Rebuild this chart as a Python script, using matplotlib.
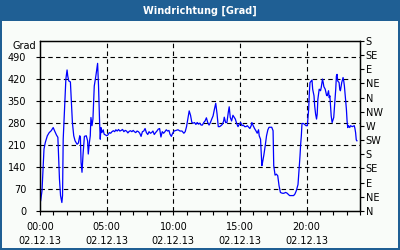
import matplotlib.pyplot as plt
from matplotlib.patches import Rectangle
from matplotlib.ticker import MultipleLocator

# wind direction readings (hours since 00:00, degrees)
hours = [
    0.05, 0.15, 0.22, 0.30, 0.40, 0.55, 0.69, 0.84, 0.99, 1.09, 1.24, 1.34, 1.39, 1.46, 1.54,
    1.64, 1.69, 1.74, 1.84, 1.94, 2.03, 2.08, 2.16, 2.28, 2.33, 2.43, 2.53, 2.63, 2.78, 2.88,
    2.98, 3.03, 3.08, 3.15, 3.23, 3.33, 3.47, 3.57, 3.62, 3.70, 3.77, 3.82, 3.90, 3.97, 4.07,
    4.19, 4.27, 4.32, 4.39, 4.47, 4.52, 4.57, 4.64, 4.74, 4.81, 4.94, 5.01,
    5.10, 5.20, 5.30, 5.40, 5.50, 5.60, 5.69, 5.79, 5.89, 5.99, 6.09, 6.19, 6.29, 6.39, 6.49,
    6.59, 6.69, 6.79, 6.89, 6.99, 7.08, 7.18, 7.28, 7.38, 7.48, 7.58, 7.68, 7.78, 7.88, 7.98,
    8.08, 8.18, 8.28, 8.37, 8.47, 8.57, 8.67, 8.77, 8.87, 8.97, 9.07, 9.17, 9.27, 9.37, 9.47,
    9.57, 9.67, 9.75, 9.85, 9.95,
    10.05, 10.20, 10.35, 10.50, 10.65, 10.79, 10.89, 10.99, 11.09, 11.19, 11.29, 11.39, 11.49,
    11.59, 11.69, 11.79, 11.89, 11.99, 12.08, 12.18, 12.28, 12.38, 12.48, 12.58, 12.68, 12.78,
    12.88, 12.98, 13.08, 13.18, 13.28, 13.37, 13.47, 13.57, 13.67, 13.77, 13.82, 13.92, 14.02,
    14.12, 14.19, 14.27, 14.37, 14.47, 14.57, 14.65, 14.75, 14.85, 14.95,
    15.05, 15.15, 15.25, 15.35, 15.45, 15.55, 15.65, 15.74, 15.84, 15.89, 15.99, 16.09, 16.19,
    16.29, 16.39, 16.44, 16.54, 16.59, 16.64, 16.69, 16.79, 16.89, 16.99, 17.09, 17.18, 17.28,
    17.38, 17.48, 17.53, 17.63, 17.73, 17.83, 17.93, 18.03, 18.13, 18.23, 18.33, 18.42, 18.52,
    18.62, 18.72, 18.82, 18.92, 19.02, 19.12, 19.22, 19.32, 19.35, 19.40, 19.45, 19.50, 19.55,
    19.60, 19.65, 19.75, 19.85, 19.95,
    20.05, 20.10, 20.15, 20.20, 20.25, 20.35, 20.40, 20.45, 20.55, 20.60, 20.67, 20.74, 20.79,
    20.84, 20.94, 21.04, 21.09, 21.19, 21.24, 21.29, 21.39, 21.49, 21.54, 21.64, 21.69, 21.74,
    21.84, 21.91, 21.99, 22.03, 22.13, 22.18, 22.23, 22.28, 22.33, 22.43, 22.48, 22.53, 22.58,
    22.63, 22.68, 22.73, 22.78, 22.83, 22.93, 22.98, 23.03, 23.08, 23.13, 23.23, 23.28, 23.42,
    23.57, 23.62, 23.67, 23.72, 23.77,
]
degrees = [
    33, 64, 128, 197, 218, 239, 249, 255, 265, 255, 241, 234, 175, 101, 49,
    27, 49, 228, 323, 419, 448, 429, 413, 410, 366, 281, 239, 223, 212, 216,
    239, 234, 154, 123, 181, 237, 239, 223, 181, 216, 239, 297, 271, 292, 397,
    429, 455, 469, 397, 281, 228, 265, 249, 258, 244, 241, 239,
    242, 249, 247, 252, 255, 252, 258, 254, 259, 254, 256, 259, 252, 256, 254,
    248, 253, 255, 252, 256, 252, 249, 254, 252, 247, 237, 252, 254, 262, 249,
    243, 252, 247, 249, 254, 243, 249, 254, 260, 262, 235, 252, 247, 252, 258,
    254, 256, 244, 237, 247,
    254, 256, 258, 254, 254, 247, 252, 268, 292, 318, 304, 281, 279,
    281, 275, 281, 276, 279, 273, 273, 281, 286, 296, 281, 273, 281,
    292, 302, 323, 342, 308, 268, 268, 271, 275, 285, 298, 281, 281,
    313, 331, 297, 286, 304, 297, 292, 278, 268, 276,
    281, 271, 273, 268, 268, 271, 266, 262, 271, 281, 271, 262, 255,
    247, 258, 239, 228, 186, 144, 154, 178, 207, 239, 258, 266, 266,
    266, 255, 144, 114, 117, 112, 80, 59, 57, 56, 57, 59, 57,
    53, 49, 49, 49, 49, 54, 64, 80, 84, 112, 144, 175, 212,
    239, 278, 278, 275, 271,
    271, 297, 323, 376, 408, 413, 416, 387, 366, 334, 308, 292, 308,
    355, 387, 382, 392, 419, 408, 395, 387, 368, 366, 382, 360, 366,
    302, 281, 292, 297, 355, 387, 429, 434, 413, 408, 387, 382, 395,
    408, 416, 424, 413, 397, 345, 323, 286, 265, 271, 265, 271, 268,
    271, 262, 249, 226, 223,
]

left_ticks = [0, 70, 140, 210, 280, 350, 420, 490]
right_ticks = [0, 45, 90, 135, 180, 225, 270, 315, 360, 405, 450, 495, 540]
right_labels = ["N", "NE", "E", "SE", "S", "SW", "W", "NW", "N", "NE", "E", "SE", "S"]
x_ticks = [0, 5, 10, 15, 20]
x_labels = ["00:00\n02.12.13", "05:00\n02.12.13", "10:00\n02.12.13",
            "15:00\n02.12.13", "20:00\n02.12.13"]

frame_blue = "#1F5F94"
panel = "#F9FCF9"

fig = plt.figure(figsize=(4, 2.5), dpi=100, facecolor=frame_blue)
fig.patches.append(Rectangle((2 / 400, 2 / 250), 396 / 400, 227 / 250,
                             transform=fig.transFigure, facecolor=panel,
                             edgecolor="none", zorder=-5))
fig.text(0.5, 1 - 10.5 / 250, "Windrichtung [Grad]", color="white",
         fontsize=7, fontweight="bold", ha="center", va="center")

ax = fig.add_axes([40 / 400, 39 / 250, 320 / 400, 170 / 250])
ax.set_facecolor(panel)
ax.plot(hours, degrees, color="#0000FF", lw=0.9, zorder=3)

ax.set_xlim(0, 24)
ax.set_ylim(0, 540)
ax.set_xticks(x_ticks)
ax.set_xticklabels(x_labels, linespacing=1.5)
ax.xaxis.set_minor_locator(MultipleLocator(1))
ax.set_yticks(left_ticks)

for sp in ax.spines.values():
    sp.set_linewidth(0.9)
    sp.set_color("black")

ax.tick_params(axis="x", which="both", direction="out", length=3, width=0.8,
               labelsize=7, pad=5)
ax.tick_params(axis="y", direction="out", length=3, width=0.8, labelsize=7, pad=7)

for v in left_ticks[1:]:
    ax.axhline(v, color="black", lw=0.8, ls=(0, (4, 3)), zorder=1)
for h in x_ticks[1:]:
    ax.axvline(h, color="black", lw=0.8, ls=(0, (4, 3)), zorder=1)

ax2 = ax.twinx()
ax2.set_ylim(0, 540)
ax2.set_yticks(right_ticks)
ax2.set_yticklabels(right_labels)
ax2.tick_params(axis="y", direction="out", length=3, width=0.8, labelsize=7, pad=1)
for sp in ax2.spines.values():
    sp.set_linewidth(0.9)

fig.text(36 / 400, 1 - 46 / 250, "Grad", fontsize=7, ha="right", va="center")

fig.savefig("out.png", dpi=100, facecolor=frame_blue)
